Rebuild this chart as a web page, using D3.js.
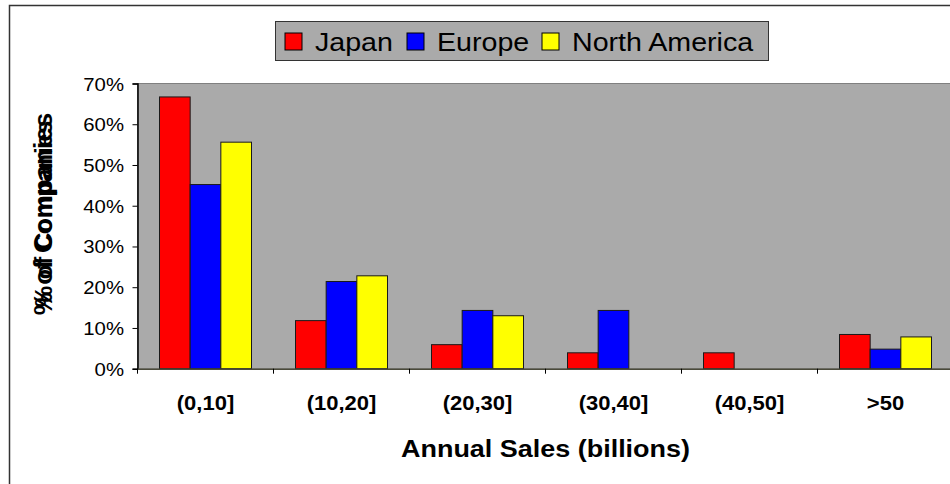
<!DOCTYPE html>
<html>
<head>
<meta charset="utf-8">
<script src="https://cdn.jsdelivr.net/npm/d3@7"></script>
<style>
  html, body { margin: 0; padding: 0; background: #ffffff; }
  svg { display: block; font-family: "Liberation Sans", Arial, sans-serif; }
</style>
</head>
<body>
<svg id="chart" width="950" height="484"></svg>
<script>
// Share of companies by annual sales band, per region
const categories = ["(0,10]", "(10,20]", "(20,30]", "(30,40]", "(40,50]", ">50"];
const seriesNames = ["Japan", "Europe", "North America"];
const seriesColors = ["#ff0000", "#0000ff", "#ffff00"];
const japan = [66.7, 11.8, 5.9, 3.9, 3.9, 8.4];
const europe = [45.2, 21.4, 14.3, 14.3, 0, 4.8];
const northAmerica = [55.6, 22.8, 13.0, 0, 0, 7.8];
const yTicks = [0, 10, 20, 30, 40, 50, 60, 70];
const yTitle = "% of Companies";
const xTitle = "Annual Sales (billions)";

const seriesValues = [japan, europe, northAmerica];

const svg = d3.select("#chart");
const SX = 1.1; // horizontal stretch applied to all text

const plot = { left: 137.5, top: 83.5, right: 953.5, bottom: 368.7 };

// outer chart frame
svg.append("rect")
  .attr("x", 9.5).attr("y", 5.5).attr("width", 1000).attr("height", 1000)
  .attr("fill", "#ffffff").attr("stroke", "#333333").attr("stroke-width", 1.5);

const x = d3.scaleBand().domain(categories)
  .range([plot.left, plot.right]).paddingInner(44 / 136).paddingOuter(22 / 136);
const xs = d3.scaleBand().domain(seriesNames).range([0, x.bandwidth()]);
const y = d3.scaleLinear().domain([0, 70]).range([plot.bottom, plot.top]);

function stretchedText(parent, px, py, str, opts) {
  const g = parent.append("g").attr("transform", `translate(${px},${py}) scale(${SX},1)`);
  return g.append("text").text(str)
    .attr("font-size", opts.size)
    .attr("font-weight", opts.weight || "normal")
    .attr("text-anchor", opts.anchor || "start")
    .attr("fill", "#000");
}

// plot background
svg.append("rect")
  .attr("x", plot.left).attr("y", plot.top)
  .attr("width", plot.right - plot.left).attr("height", plot.bottom - plot.top)
  .attr("fill", "#aaaaaa").attr("stroke", "#808080").attr("stroke-width", 1);

// bars
const groups = svg.append("g").selectAll("g")
  .data(seriesNames).join("g")
  .attr("fill", (d, i) => seriesColors[i]);
groups.selectAll("rect")
  .data((s, si) => categories.map((c, ci) => ({ c, s, v: seriesValues[si][ci] })))
  .join("rect")
  .filter(d => d.v > 0)
  .attr("x", d => x(d.c) + xs(d.s))
  .attr("y", d => y(d.v))
  .attr("width", xs.bandwidth())
  .attr("height", d => y(0) - y(d.v))
  .attr("stroke", "#1a1a1a").attr("stroke-width", 1);

// y axis
const yAxisG = svg.append("g").attr("transform", `translate(${plot.left},0)`)
  .call(d3.axisLeft(y).tickValues(yTicks).tickSize(5).tickFormat(""));
yAxisG.select(".domain").attr("stroke", "#000").attr("stroke-width", 1.5);
yAxisG.selectAll(".tick line").attr("stroke", "#000");
yTicks.forEach(v => {
  stretchedText(svg, 124, y(v) + 7, v + "%", { size: 18.5, anchor: "end" });
});

// x axis
const xAxisG = svg.append("g").attr("transform", `translate(0,${plot.bottom})`)
  .call(d3.axisBottom(x).tickSize(0).tickFormat(""));
xAxisG.select(".domain").attr("stroke", "#4a4a3a").attr("stroke-width", 1.5);
const bounds = categories.map(c => x(c) - x.step() * x.paddingOuter());
svg.append("g").selectAll("line").data(bounds).join("line")
  .attr("x1", d => d).attr("x2", d => d)
  .attr("y1", plot.bottom).attr("y2", plot.bottom + 5)
  .attr("stroke", "#000");
categories.forEach(c => {
  stretchedText(svg, x(c) + x.bandwidth() / 2, 410, c, { size: 20, weight: "bold", anchor: "middle" });
});

// axis titles
stretchedText(svg, 545.5, 457, xTitle, { size: 24.5, weight: "bold", anchor: "middle" });
[24, 26].forEach(sz => {
  svg.append("text").text(yTitle)
    .attr("transform", `translate(52,214) rotate(-90)`)
    .attr("text-anchor", "middle")
    .attr("font-size", sz).attr("font-weight", "bold").attr("fill", "#000");
});

// legend
const legend = svg.append("g");
legend.append("rect")
  .attr("x", 275.5).attr("y", 21.5).attr("width", 493).attr("height", 39)
  .attr("fill", "#aaaaaa").attr("stroke", "#333333").attr("stroke-width", 1);
const swatchX = [285, 407, 542];
seriesNames.forEach((n, i) => {
  legend.append("rect")
    .attr("x", swatchX[i]).attr("y", 33).attr("width", 17).attr("height", 17)
    .attr("fill", seriesColors[i]).attr("stroke", "#000").attr("stroke-width", 1);
  stretchedText(legend, swatchX[i] + 30, 51, n, { size: 26 });
});
</script>
</body>
</html>
